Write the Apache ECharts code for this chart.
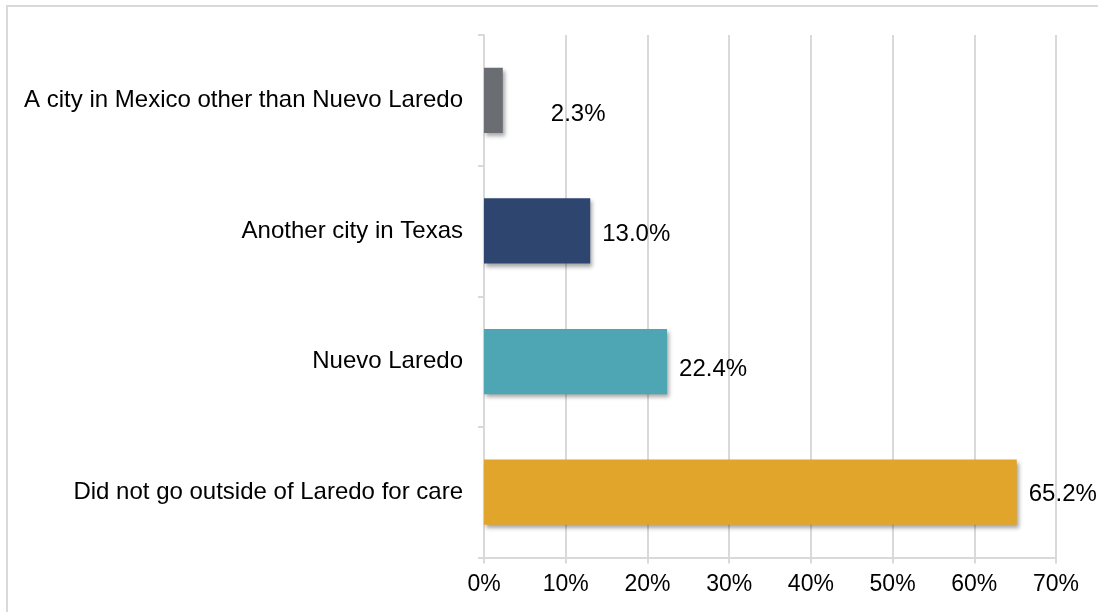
<!DOCTYPE html>
<html>
<head>
<meta charset="utf-8">
<script src="https://cdn.jsdelivr.net/npm/echarts@6/dist/echarts.min.js"></script>
<style>
html,body{margin:0;padding:0;background:#fff;}
#chart{width:1098px;height:612px;}
</style>
</head>
<body>
<div id="chart"></div>
<script>
const categories = [
  "A city in Mexico other than Nuevo Laredo",
  "Another city in Texas",
  "Nuevo Laredo",
  "Did not go outside of Laredo for care"
];
const values = [2.3, 13.0, 22.4, 65.2];
const colors = ["#6a6d72", "#2e466f", "#4ea5b3", "#e0a52a"];
const labelOffsets = [[36, 14], [0, 3], [0, 8], [0, 2]];
const xTicks = [0, 10, 20, 30, 40, 50, 60, 70];

const chart = echarts.init(document.getElementById('chart'));
const font = '"Liberation Sans", Arial, sans-serif';
chart.setOption({
  animation: false,
  backgroundColor: '#fff',
  graphic: [{
    type: 'rect',
    shape: { x: 7, y: 6, width: 1300, height: 800 },
    style: { fill: 'none', stroke: '#d9d9d9', lineWidth: 2 },
    silent: true
  }],
  grid: { left: 484, right: 42, top: 35, bottom: 54.5, containLabel: false },
  xAxis: {
    type: 'value',
    min: xTicks[0],
    max: xTicks[xTicks.length - 1],
    interval: 10,
    axisLine: { show: true, lineStyle: { color: '#d9d9d9', width: 2 } },
    axisTick: { show: true, length: 6, lineStyle: { color: '#d9d9d9', width: 2 } },
    splitLine: { show: true, lineStyle: { color: '#d9d9d9', width: 2 } },
    axisLabel: { formatter: '{value}%', color: '#000', fontSize: 23, fontFamily: font, margin: 16 }
  },
  yAxis: {
    type: 'category',
    inverse: true,
    data: categories,
    axisLine: { show: true, lineStyle: { color: '#d9d9d9', width: 2 } },
    axisTick: { show: true, length: 6, lineStyle: { color: '#d9d9d9', width: 2 } },
    axisLabel: { color: '#000', fontSize: 24, fontFamily: font, margin: 21, padding: [4, 0, 0, 0] }
  },
  series: [{
    type: 'bar',
    barWidth: '50%',
    data: values.map((v, i) => ({
      value: v,
      itemStyle: {
        color: colors[i],
        shadowColor: 'rgba(0,0,0,0.35)',
        shadowBlur: 4,
        shadowOffsetX: 2,
        shadowOffsetY: 3
      },
      label: { offset: labelOffsets[i] }
    })),
    label: {
      show: true,
      position: 'right',
      distance: 12,
      formatter: p => p.value.toFixed(1) + '%',
      color: '#000',
      fontSize: 24,
      fontFamily: font
    }
  }]
});
</script>
</body>
</html>
